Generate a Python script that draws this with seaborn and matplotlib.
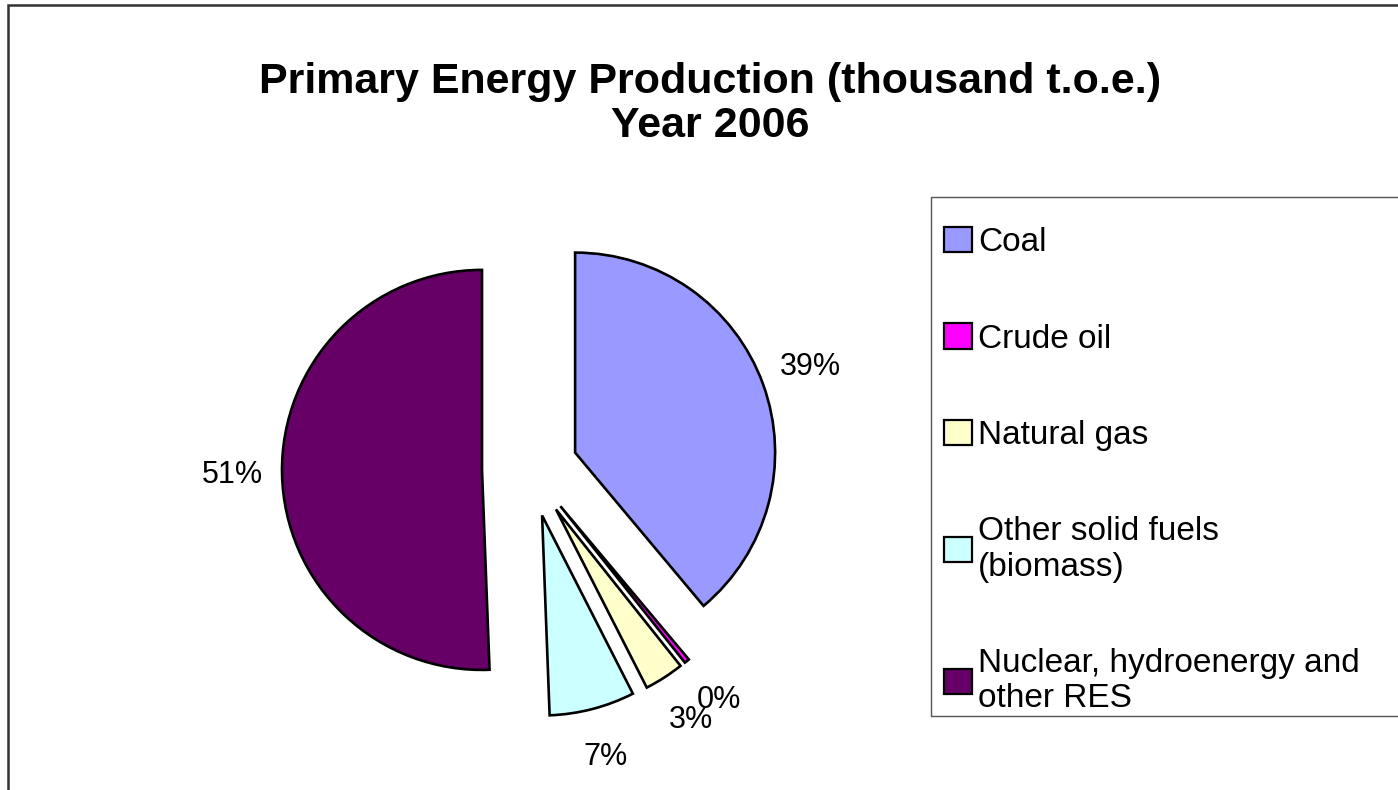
import matplotlib
matplotlib.use("Agg")
import matplotlib.pyplot as plt
import matplotlib.patches as mpatches
import seaborn as sns

sns.set_theme(style="white")
plt.rcParams['font.family'] = ['Liberation Sans', 'DejaVu Sans']
plt.rcParams['text.color'] = 'black'

# Data
categories = ["Coal", "Crude oil", "Natural gas", "Other solid fuels\n(biomass)",
              "Nuclear, hydroenergy and\nother RES"]
values = [38.9, 0.4, 3.2, 6.9, 50.6]
colors = ["#9999FF", "#FF00FF", "#FFFFCC", "#CCFFFF", "#660066"]
title_lines = ["Primary Energy Production (thousand t.o.e.)", "Year 2006"]

W, H = 1398, 790
fig = plt.figure(figsize=(W / 100, H / 100), dpi=100)
fig.patch.set_facecolor("white")

# outer frame
fig.patches.append(mpatches.Rectangle((8 / W, -0.01), 1.2, 1 - 5 / H + 0.01,
                                      transform=fig.transFigure, fill=False,
                                      edgecolor="#333333", linewidth=1.8, zorder=0))
# legend box (extends past the right edge, as in the original)
fig.patches.append(mpatches.Rectangle((931 / W, 1 - 716 / H), 0.5, (716 - 197) / H,
                                      transform=fig.transFigure, fill=False,
                                      edgecolor="#555555", linewidth=1.0, zorder=0))

# pie axes: radius 1 == 200 px, center at (530, 469)
R = 200
cx, cy = 530, 469
half = 1.6
ax = fig.add_axes([(cx - half * R) / W, (H - cy - half * R) / H,
                   2 * half * R / W, 2 * half * R / H])

wedges, texts, autotexts = ax.pie(
    values, colors=colors, explode=[0.24] * len(values), startangle=90,
    counterclock=False, autopct='%1.0f%%', pctdistance=1.25,
    wedgeprops=dict(edgecolor="black", linewidth=1.9),
    textprops=dict(fontsize=22, color="black"))
ax.set_xlim(-half, half)
ax.set_ylim(-half, half)
ax.set_aspect("equal")
ax.set_axis_off()

fig.text(710 / W, 1 - 104 / H, "\n".join(title_lines), ha="center", va="center",
         fontsize=31, fontweight="bold", linespacing=1.14, color="black")

handles = [mpatches.Patch(facecolor=c, edgecolor="black", linewidth=1.6) for c in colors]
leg = fig.legend(handles, categories, loc="upper left",
                 bbox_to_anchor=(931 / W, 1 - 214 / H), fontsize=24,
                 frameon=False,
                 handlelength=0.82, handleheight=0.78, handletextpad=0.2,
                 labelspacing=1.95, borderpad=0.4, borderaxespad=0)
for t in leg.get_texts():
    t.set_color("black")

fig.savefig("out.png", dpi=100, facecolor="white")
